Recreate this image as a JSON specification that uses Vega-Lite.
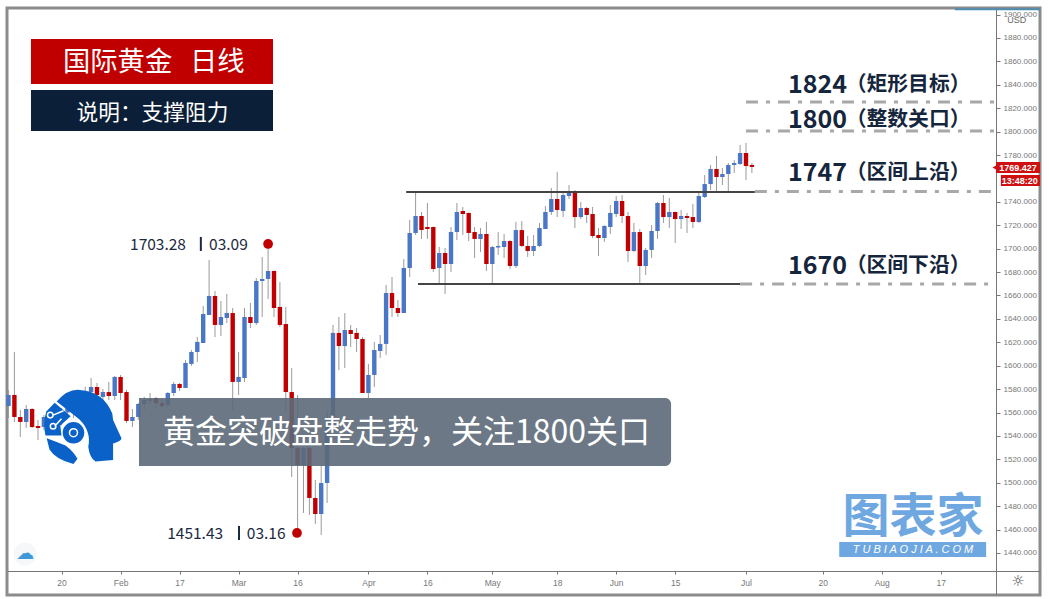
{
  "$schema": "https://vega.github.io/schema/vega-lite/v6.json",
  "width": 1033,
  "height": 587,
  "autosize": "none",
  "padding": {"left": 7, "top": 8, "right": 9, "bottom": 4},
  "background": "#ffffff",
  "view": {"stroke": "#8c8c8c", "strokeWidth": 3},
  "config": {"text": {"font": "Noto Sans CJK SC"}},
  "datasets": {
    "candles": [
      {"i":0,"o":1565.6,"c":1575,"h":1579.3,"l":1555.3},
      {"i":1,"o":1575,"c":1556.2,"h":1611.7,"l":1551.9},
      {"i":2,"o":1556.2,"c":1551.9,"h":1562.2,"l":1539.1},
      {"i":3,"o":1551.9,"c":1563,"h":1566.4,"l":1546.8},
      {"i":4,"o":1563,"c":1547.6,"h":1563.9,"l":1546.8},
      {"i":5,"o":1548.5,"c":1546.8,"h":1553.6,"l":1536.5},
      {"i":6,"o":1547.6,"c":1556.2,"h":1557.9,"l":1545.1},
      {"i":7,"o":1548,"c":1558,"h":1562,"l":1545},
      {"i":8,"o":1558,"c":1552,"h":1563,"l":1548},
      {"i":9,"o":1552,"c":1560,"h":1564,"l":1549},
      {"i":10,"o":1560,"c":1565,"h":1570,"l":1556},
      {"i":11,"o":1565,"c":1560,"h":1569,"l":1555},
      {"i":12,"o":1560,"c":1572,"h":1576,"l":1557},
      {"i":13,"o":1572,"c":1578,"h":1582,"l":1568},
      {"i":14,"o":1577.5,"c":1581.8,"h":1589.5,"l":1577.5},
      {"i":15,"o":1581.8,"c":1575,"h":1585.2,"l":1574.1},
      {"i":16,"o":1573.3,"c":1577.5,"h":1580.1,"l":1570.7},
      {"i":17,"o":1577.5,"c":1574.1,"h":1586.1,"l":1570.7},
      {"i":18,"o":1574.1,"c":1590.4,"h":1591.2,"l":1570.7},
      {"i":19,"o":1590.4,"c":1576.7,"h":1592.1,"l":1570.7},
      {"i":20,"o":1577.5,"c":1552.8,"h":1579.3,"l":1551.1},
      {"i":21,"o":1552.8,"c":1556.2,"h":1563,"l":1547.6},
      {"i":22,"o":1556.2,"c":1567.3,"h":1568.1,"l":1553.6},
      {"i":23,"o":1567.3,"c":1570.7,"h":1573.3,"l":1562.2},
      {"i":24,"o":1569.9,"c":1571.6,"h":1576.7,"l":1568.1},
      {"i":25,"o":1572.4,"c":1568.1,"h":1573.3,"l":1563.9},
      {"i":26,"o":1568.1,"c":1565.6,"h":1571.6,"l":1563.9},
      {"i":27,"o":1566.4,"c":1576.7,"h":1577.5,"l":1564.7},
      {"i":28,"o":1576.7,"c":1584.4,"h":1586.1,"l":1574.1},
      {"i":29,"o":1584.4,"c":1581,"h":1585.2,"l":1578.4},
      {"i":30,"o":1581,"c":1602.3,"h":1604.9,"l":1581},
      {"i":31,"o":1601.5,"c":1611.7,"h":1613.4,"l":1599.8},
      {"i":32,"o":1611.7,"c":1620.3,"h":1624.5,"l":1603.2},
      {"i":33,"o":1619.4,"c":1644.2,"h":1651,"l":1619.4},
      {"i":34,"o":1643.3,"c":1659.6,"h":1690.3,"l":1643.3},
      {"i":35,"o":1659.6,"c":1634.8,"h":1663.8,"l":1624.5},
      {"i":36,"o":1634.8,"c":1641.6,"h":1655.3,"l":1625.4},
      {"i":37,"o":1640.8,"c":1645,"h":1661.3,"l":1636.5},
      {"i":38,"o":1645,"c":1586.1,"h":1649.3,"l":1562.2},
      {"i":39,"o":1586.1,"c":1590.4,"h":1611.7,"l":1575},
      {"i":40,"o":1589.5,"c":1641.6,"h":1649.3,"l":1586.1},
      {"i":41,"o":1641.6,"c":1636.5,"h":1653.6,"l":1632.2},
      {"i":42,"o":1636.5,"c":1672.4,"h":1674.9,"l":1634.8},
      {"i":43,"o":1672.4,"c":1674.1,"h":1692.9,"l":1641.6},
      {"i":44,"o":1674.1,"c":1680.9,"h":1703.28,"l":1657},
      {"i":45,"o":1680.9,"c":1649.3,"h":1681.5,"l":1641.6},
      {"i":46,"o":1650.2,"c":1634.8,"h":1671.5,"l":1633.1},
      {"i":47,"o":1635.6,"c":1577.5,"h":1650.2,"l":1560.5},
      {"i":48,"o":1577.5,"c":1529.7,"h":1598,"l":1504.9},
      {"i":49,"o":1529.7,"c":1515.2,"h":1575,"l":1455.4},
      {"i":50,"o":1515.2,"c":1529.7,"h":1530.6,"l":1474.2},
      {"i":51,"o":1529.7,"c":1487,"h":1530.6,"l":1472.5},
      {"i":52,"o":1487,"c":1473.3,"h":1502.4,"l":1464.8},
      {"i":53,"o":1473.3,"c":1499.8,"h":1515.2,"l":1455.4},
      {"i":54,"o":1499.8,"c":1553.6,"h":1561.3,"l":1482.7},
      {"i":55,"o":1549.3,"c":1628,"h":1634.8,"l":1545.1},
      {"i":56,"o":1628,"c":1616.8,"h":1641.6,"l":1596.3},
      {"i":57,"o":1616.8,"c":1630.5,"h":1645,"l":1598},
      {"i":58,"o":1630.5,"c":1627.1,"h":1634.8,"l":1616},
      {"i":59,"o":1628,"c":1622.8,"h":1632.2,"l":1611.7},
      {"i":60,"o":1622.8,"c":1576.7,"h":1624.5,"l":1576.7},
      {"i":61,"o":1576.7,"c":1592.1,"h":1601.5,"l":1572.4},
      {"i":62,"o":1592.1,"c":1613.4,"h":1620.3,"l":1581.8},
      {"i":63,"o":1612.6,"c":1618.6,"h":1626.2,"l":1606.6},
      {"i":64,"o":1618.6,"c":1662.1,"h":1669,"l":1609.2},
      {"i":65,"o":1662.1,"c":1649.3,"h":1675.8,"l":1641.6},
      {"i":66,"o":1649.3,"c":1645,"h":1656.1,"l":1641.6},
      {"i":67,"o":1645,"c":1683.5,"h":1691.2,"l":1645},
      {"i":68,"o":1683.5,"c":1713.4,"h":1724.5,"l":1675.8},
      {"i":69,"o":1713.4,"c":1727.9,"h":1748.4,"l":1711.7},
      {"i":70,"o":1727.9,"c":1715.9,"h":1731.3,"l":1708.3},
      {"i":71,"o":1718.5,"c":1716.8,"h":1739,"l":1708.3},
      {"i":72,"o":1718.5,"c":1682.6,"h":1718.9,"l":1680.1},
      {"i":73,"o":1683.5,"c":1696.3,"h":1701.4,"l":1670.7},
      {"i":74,"o":1696.3,"c":1686.9,"h":1700.6,"l":1661.3},
      {"i":75,"o":1686.9,"c":1714.2,"h":1718.5,"l":1680.1},
      {"i":76,"o":1714.2,"c":1731.3,"h":1739,"l":1707.4},
      {"i":77,"o":1732.2,"c":1729.6,"h":1735.6,"l":1711.7},
      {"i":78,"o":1730.5,"c":1713.4,"h":1731,"l":1706.5},
      {"i":79,"o":1714.2,"c":1708.3,"h":1718.5,"l":1692},
      {"i":80,"o":1708.3,"c":1712.5,"h":1717.6,"l":1697.1},
      {"i":81,"o":1712.5,"c":1686.9,"h":1722.8,"l":1680.9},
      {"i":82,"o":1686.9,"c":1701.4,"h":1702.3,"l":1670.7},
      {"i":83,"o":1701,"c":1702.3,"h":1714.2,"l":1694.6},
      {"i":84,"o":1701.4,"c":1706.5,"h":1712.5,"l":1692},
      {"i":85,"o":1706.5,"c":1685.2,"h":1707.4,"l":1682.6},
      {"i":86,"o":1685.2,"c":1715.9,"h":1722.8,"l":1683.5},
      {"i":87,"o":1715.9,"c":1702.3,"h":1723.6,"l":1701.4},
      {"i":88,"o":1702.3,"c":1698,"h":1710.8,"l":1692.9},
      {"i":89,"o":1698,"c":1702.3,"h":1711.7,"l":1693.7},
      {"i":90,"o":1702.3,"c":1717.6,"h":1721.9,"l":1701.4},
      {"i":91,"o":1716.8,"c":1731.3,"h":1736.4,"l":1716.8},
      {"i":92,"o":1731.3,"c":1742.4,"h":1751.8,"l":1728.8},
      {"i":93,"o":1742.4,"c":1733,"h":1765.5,"l":1727},
      {"i":94,"o":1732.2,"c":1745.8,"h":1748.4,"l":1727},
      {"i":95,"o":1745,"c":1748.4,"h":1754.4,"l":1742.4},
      {"i":96,"o":1748.4,"c":1727,"h":1750.1,"l":1717.6},
      {"i":97,"o":1727,"c":1734.7,"h":1739.9,"l":1725.3},
      {"i":98,"o":1734.7,"c":1728.8,"h":1735.6,"l":1721.9},
      {"i":99,"o":1729.6,"c":1710.8,"h":1735.6,"l":1709.1},
      {"i":100,"o":1711.7,"c":1709.1,"h":1717.6,"l":1693.7},
      {"i":101,"o":1709.1,"c":1719.4,"h":1719.9,"l":1705.7},
      {"i":102,"o":1718.5,"c":1730.5,"h":1737.3,"l":1712.5},
      {"i":103,"o":1729.6,"c":1740.7,"h":1745,"l":1727},
      {"i":104,"o":1740.7,"c":1727.9,"h":1745.8,"l":1721.9},
      {"i":105,"o":1727.9,"c":1698,"h":1731.3,"l":1688.6},
      {"i":106,"o":1698,"c":1714.2,"h":1721.9,"l":1697.1},
      {"i":107,"o":1714.2,"c":1685.2,"h":1716.8,"l":1670.7},
      {"i":108,"o":1685.2,"c":1698.9,"h":1700.6,"l":1677.5},
      {"i":109,"o":1698.9,"c":1715.1,"h":1720.2,"l":1692},
      {"i":110,"o":1715.1,"c":1739,"h":1739.9,"l":1708.3},
      {"i":111,"o":1739,"c":1727,"h":1745.8,"l":1721.9},
      {"i":112,"o":1727,"c":1731.3,"h":1743.3,"l":1717.6},
      {"i":113,"o":1731.3,"c":1725.3,"h":1731.8,"l":1704.8},
      {"i":114,"o":1725.3,"c":1727.9,"h":1733,"l":1716.8},
      {"i":115,"o":1727.9,"c":1726.2,"h":1730.5,"l":1713.4},
      {"i":116,"o":1727,"c":1722.8,"h":1738.2,"l":1717.6},
      {"i":117,"o":1722.8,"c":1745,"h":1747.5,"l":1721.9},
      {"i":118,"o":1744.1,"c":1755.2,"h":1762.9,"l":1743.3},
      {"i":119,"o":1755.2,"c":1768.1,"h":1771.5,"l":1750.1},
      {"i":120,"o":1768.1,"c":1761.2,"h":1779.2,"l":1748.4},
      {"i":121,"o":1761.2,"c":1763.8,"h":1768.9,"l":1754.4},
      {"i":122,"o":1763.8,"c":1771.5,"h":1773.2,"l":1748.4},
      {"i":123,"o":1771.5,"c":1773.2,"h":1775.7,"l":1764.6},
      {"i":124,"o":1772.3,"c":1781.7,"h":1788.6,"l":1771.5},
      {"i":125,"o":1781.7,"c":1770.6,"h":1790.3,"l":1758.7},
      {"i":126,"o":1771.5,"c":1769.8,"h":1773.2,"l":1764.6}
    ],
    "solidLevels": [
      {"i":67.4,"i2":126.5,"p":1748.4},
      {"i":69.4,"i2":124,"p":1669.8}
    ],
    "dashedLevels": [
      {"i":125,"i2":167.2,"p":1825.3},
      {"i":125,"i2":167.2,"p":1800.5},
      {"i":126.5,"i2":167.2,"p":1748.8},
      {"i":124,"i2":167.2,"p":1669.8}
    ],
    "panels": [
      {"kind":"title","i":3.81,"i2":44.83,"p":1879.1,"p2":1840.7},
      {"kind":"subtitle","i":3.81,"i2":44.83,"p":1835.5,"p2":1800.5},
      {"kind":"last","i":167.4,"i2":174.83,"p":1774,"p2":1764.6},
      {"kind":"last","i":168.2,"i2":174.83,"p":1762.9,"p2":1753.5},
      {"kind":"brand","i":140.8,"i2":165.7,"p":1449.4,"p2":1436.6}
    ],
    "extremes": [
      {"i":44,"p":1704},
      {"i":48.9,"p":1457.1}
    ],
    "extremeBars": [
      {"i":32.6,"p":1710,"p2":1698},
      {"i":39.07,"p":1463.1,"p2":1451.1}
    ]
  },
  "encoding": {
    "x": {
      "field": "i",
      "type": "quantitative",
      "scale": {"domain": [-0.254, 174.83], "nice": false, "zero": false, "padding": 0},
      "axis": {
        "title": null,
        "orient": "bottom",
        "offset": -24,
        "grid": false,
        "values": [9, 19, 29, 39, 49, 61, 71, 82, 93, 103, 113, 125, 138, 148, 158],
        "labelExpr": "{'9':'20','19':'Feb','29':'17','39':'Mar','49':'16','61':'Apr','71':'16','82':'May','93':'18','103':'Jun','113':'15','125':'Jul','138':'20','148':'Aug','158':'17'}[''+datum.value]",
        "labelFont": "Liberation Sans",
        "labelFontSize": 8.5,
        "labelColor": "#777777",
        "labelPadding": 4,
        "tickSize": 3,
        "tickColor": "#777777",
        "domainColor": "#777777",
        "labelOverlap": false
      }
    },
    "y": {
      "field": "p",
      "type": "quantitative",
      "scale": {"domain": [1404.1, 1905.6], "nice": false, "zero": false},
      "axis": {
        "title": null,
        "orient": "right",
        "offset": -44,
        "grid": false,
        "values": [1440,1460,1480,1500,1520,1540,1560,1580,1600,1620,1640,1660,1680,1700,1720,1740,1780,1800,1820,1840,1860,1880,1900],
        "format": ".3f",
        "labelFont": "Liberation Sans",
        "labelFontSize": 8,
        "labelColor": "#777777",
        "labelPadding": 3,
        "tickSize": 4,
        "tickColor": "#777777",
        "domainColor": "#777777",
        "labelOverlap": false,
        "labelBound": false
      }
    }
  },
  "layer": [
    {
      "data": {"name": "candles"},
      "mark": {"type": "rule", "color": "#9a9a9a", "strokeWidth": 1},
      "encoding": {"y": {"field": "h", "type": "quantitative", "title": null}, "y2": {"field": "l"}}
    },
    {
      "data": {"name": "candles"},
      "mark": {"type": "bar", "orient": "vertical", "size": 4.4},
      "encoding": {
        "y": {"field": "o", "type": "quantitative", "title": null},
        "y2": {"field": "c"},
        "color": {"condition": {"test": "datum.c >= datum.o", "value": "#4a76c6"}, "value": "#c00000"}
      }
    },
    {
      "data": {"name": "solidLevels"},
      "mark": {"type": "rule", "color": "#444444", "strokeWidth": 2},
      "encoding": {"x2": {"field": "i2"}}
    },
    {
      "data": {"name": "dashedLevels"},
      "mark": {"type": "rule", "color": "#a8a8a8", "strokeWidth": 3, "strokeDash": [12, 8, 4, 8]},
      "encoding": {"x2": {"field": "i2"}}
    },
    {
      "data": {"name": "panels"},
      "mark": {"type": "rect"},
      "encoding": {
        "x2": {"field": "i2"},
        "y2": {"field": "p2"},
        "color": {
          "field": "kind",
          "type": "nominal",
          "legend": null,
          "scale": {"domain": ["title", "subtitle", "last", "brand"], "range": ["#c00000", "#0b2038", "#d01010", "#6fa8e0"]}
        }
      }
    },
    {
      "data": {"values": [{"i": 167.3, "p": 1769.3}]},
      "mark": {"type": "point", "shape": "triangle-left", "filled": true, "size": 50, "color": "#d01010", "opacity": 1}
    },
    {
      "data": {"values": [{"i": 22.12, "i2": 112.3, "p": 1572.4, "p2": 1514.3}]},
      "mark": {"type": "rect", "color": "#5c6978", "opacity": 0.9, "cornerRadiusTopRight": 6, "cornerRadiusBottomRight": 6},
      "encoding": {"x2": {"field": "i2"}, "y2": {"field": "p2"}}
    },
    {
      "data": {"values": [{"i": 160.4, "i2": 174.83, "p": 1904.6}]},
      "mark": {"type": "rule", "color": "#4d8db0", "strokeWidth": 2},
      "encoding": {"x2": {"field": "i2"}}
    },
    {
      "data": {"name": "extremeBars"},
      "mark": {"type": "rule", "color": "#1a2a40", "strokeWidth": 2},
      "encoding": {"y2": {"field": "p2"}}
    },
    {
      "data": {"name": "extremes"},
      "mark": {"type": "point", "shape": "circle", "filled": true, "size": 95, "color": "#c00000", "opacity": 1}
    },
    {
      "data": {"values": [{"i": 12.71, "p": 1547.2}]},
      "mark": {
        "type": "point",
        "filled": true,
        "opacity": 1,
        "size": 6400,
        "color": "#0a62c8",
        "shape": "M-.67,-.65Q-.4,-.97,-.09,-.94Q.5,-.9,.72,-.35L.74,-.19L.95,.27Q.95,.34,.74,.40L.74,.81L.3,.85Q.15,.75,.12,.48Q.2,.1,-.1,-.2Q-.35,-.4,-.67,-.65ZM-.92,.27Q-.7,.35,-.45,.45Q-.25,.6,-.15,.78L-.25,.91Q-.7,.8,-.85,.55ZM-.52,.13A.27,.27,0,1,1,.02,.13A.27,.27,0,1,1,-.52,.13ZM-.72,-.62L-.32,-.28L-.58,-.05L-.55,.2L-.95,.2Q-1.02,-.1,-.93,-.4Z"
      }
    },
    {
      "data": {"values": [{"i": 12.71, "p": 1547.2}]},
      "mark": {
        "type": "point",
        "filled": false,
        "opacity": 1,
        "size": 6400,
        "color": "#ffffff",
        "strokeWidth": 1.5,
        "shape": "M-.35,.13A.1,.1,0,1,1,-.15,.13A.1,.1,0,1,1,-.35,.13ZM-.55,-.22L-.72,-.03M-.83,-.03A.07,.07,0,1,1,-.69,-.03A.07,.07,0,1,1,-.83,-.03ZM-.9,-.31A.07,.07,0,1,1,-.76,-.31A.07,.07,0,1,1,-.9,-.31ZM-.76,-.31L-.5,-.42"
      }
    },
    {
      "data": {"values": [{"i": 2.8, "p": 1439.1}]},
      "mark": {"type": "point", "shape": "circle", "filled": true, "size": 530, "color": "#f5f7f9", "opacity": 1}
    },
    {
      "data": {"values": [{"i": 2.8, "p": 1439.1, "t": "☁"}]},
      "mark": {"type": "text", "font": "DejaVu Sans", "fontSize": 18, "color": "#3d9ad9"},
      "encoding": {"text": {"field": "t"}}
    },
    {
      "data": {"values": [{"i": 171.1, "p": 1416.1, "t": "☼"}]},
      "mark": {"type": "text", "font": "DejaVu Sans", "fontSize": 15, "color": "#444444"},
      "encoding": {"text": {"field": "t"}}
    },
    {
      "data": {"values": [
        {"i": 9.24, "p": 1858.6, "t": "国际黄金"},
        {"i": 30.76, "p": 1858.6, "t": "日线"}
      ]},
      "mark": {"type": "text", "align": "left", "fontSize": 27.3, "color": "#ffffff"},
      "encoding": {"text": {"field": "t"}}
    },
    {
      "data": {"values": [{"i": 24.4, "p": 1815.9, "t": "说明：支撑阻力"}]},
      "mark": {"type": "text", "fontSize": 21.7, "color": "#ffffff"},
      "encoding": {"text": {"field": "t"}}
    },
    {
      "data": {"values": [{"i": 26.2, "p": 1542.5, "t": "黄金突破盘整走势，关注1800关口"}]},
      "mark": {"type": "text", "align": "left", "fontSize": 32, "color": "#ffffff"},
      "encoding": {"text": {"field": "t"}}
    },
    {
      "data": {"values": [
        {"i": 132.1, "p": 1839.4, "t": "1824"},
        {"i": 132.1, "p": 1810.3, "t": "1800"},
        {"i": 132.1, "p": 1764.6, "t": "1747"},
        {"i": 132.1, "p": 1684.8, "t": "1670"}
      ]},
      "mark": {"type": "text", "align": "left", "fontSize": 25, "fontWeight": "bold", "color": "#15263c"},
      "encoding": {"text": {"field": "t"}}
    },
    {
      "data": {"values": [
        {"i": 141.9, "p": 1839.4, "t": "（矩形目标）"},
        {"i": 141.9, "p": 1810.3, "t": "（整数关口）"},
        {"i": 141.9, "p": 1764.6, "t": "（区间上沿）"},
        {"i": 141.9, "p": 1684.8, "t": "（区间下沿）"}
      ]},
      "mark": {"type": "text", "align": "left", "fontSize": 20.8, "fontWeight": "bold", "color": "#15263c"},
      "encoding": {"text": {"field": "t"}}
    },
    {
      "data": {"values": [
        {"i": 20.6, "p": 1703, "t": "1703.28"},
        {"i": 34, "p": 1703, "t": "03.09"},
        {"i": 26.9, "p": 1456.2, "t": "1451.43"},
        {"i": 40.4, "p": 1456.2, "t": "03.16"}
      ]},
      "mark": {"type": "text", "align": "left", "fontSize": 15.5, "color": "#1a2a40"},
      "encoding": {"text": {"field": "t"}}
    },
    {
      "data": {"values": [{"i": 153.3, "p": 1470, "t": "图表家"}]},
      "mark": {"type": "text", "fontSize": 47, "fontWeight": "bold", "color": "#6fa8e0"},
      "encoding": {"text": {"field": "t"}}
    },
    {
      "data": {"values": [{"i": 153.3, "p": 1442.6, "t": "T U B I A O J I A . C O M"}]},
      "mark": {"type": "text", "font": "Liberation Sans", "fontStyle": "italic", "fontSize": 11, "color": "#ffffff"},
      "encoding": {"text": {"field": "t"}}
    },
    {
      "data": {"values": [
        {"i": 171.1, "p": 1769.3, "t": "1769.427"},
        {"i": 171.4, "p": 1758.2, "t": "13:48:20"}
      ]},
      "mark": {"type": "text", "font": "Liberation Sans", "fontSize": 9, "fontWeight": "bold", "color": "#ffffff"},
      "encoding": {"text": {"field": "t"}}
    },
    {
      "data": {"values": [{"i": 170.9, "p": 1895.4, "t": "USD"}]},
      "mark": {"type": "text", "font": "Liberation Sans", "fontSize": 9, "color": "#666666"},
      "encoding": {"text": {"field": "t"}}
    }
  ]
}
